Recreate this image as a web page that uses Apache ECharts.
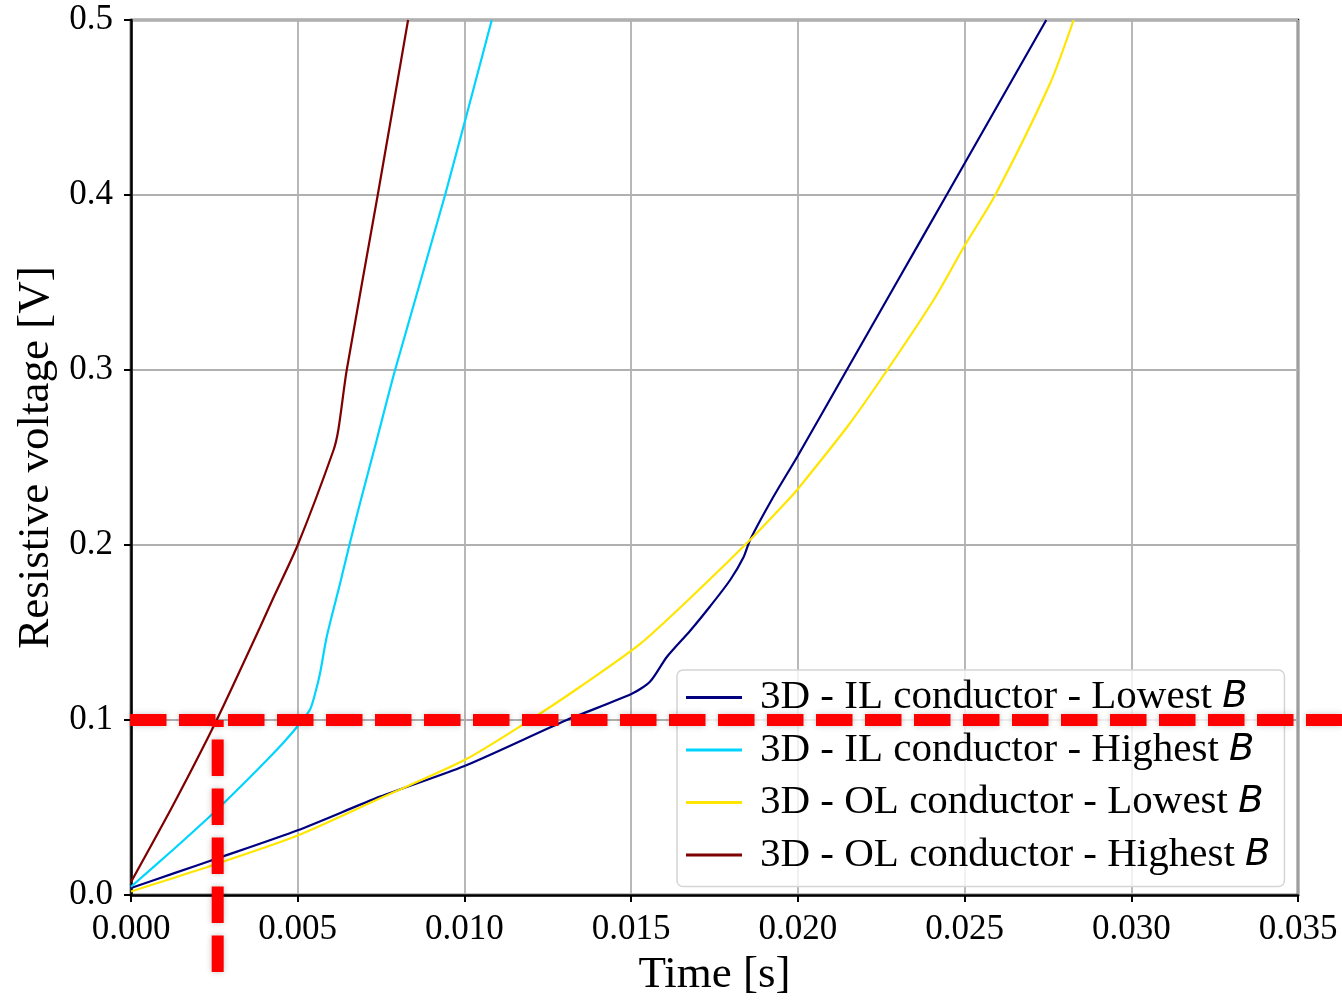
<!DOCTYPE html>
<html><head><meta charset="utf-8">
<script src="https://cdn.jsdelivr.net/npm/echarts@6/dist/echarts.min.js"></script>
<style>html,body{margin:0;padding:0;background:#fff}#c{width:1342px;height:1001px}</style>
</head><body><div id="c"></div>
<script>
// ---- data (time [s], resistive voltage [V]) ----
const ilLowest = [[0,0.004],[0.0013,0.0125],[0.0026,0.021],[0.005,0.037],[0.00747,0.0562],[0.010,0.0737],[0.01307,0.1],[0.01502,0.115],[0.01557,0.122],[0.01607,0.136],[0.01677,0.151],[0.01737,0.165],[0.01797,0.18],[0.01837,0.193],[0.01857,0.203],[0.01922,0.226],[0.0200,0.251],[0.02136,0.2964],[0.02307,0.3536],[0.02447,0.4003],[0.02745,0.5]];
const ilHighest = [[0,0.0047],[0.00127,0.026],[0.00257,0.0486],[0.0035,0.066],[0.00407,0.077],[0.00457,0.087],[0.00502,0.097],[0.00537,0.106],[0.00552,0.115],[0.00567,0.1267],[0.00587,0.1476],[0.00627,0.178],[0.00655,0.2],[0.00687,0.224],[0.00737,0.26],[0.00792,0.3],[0.00942,0.4],[0.01082,0.5]];
const olLowest = [[0,0.002],[0.0013,0.0099],[0.0026,0.018],[0.005,0.034],[0.00747,0.0553],[0.010,0.0771],[0.01197,0.1],[0.01347,0.119],[0.01527,0.1435],[0.0169,0.172],[0.01857,0.203],[0.01972,0.226],[0.0200,0.232],[0.0215,0.268],[0.02268,0.3],[0.02407,0.34],[0.025,0.371],[0.02592,0.4],[0.02757,0.464],[0.02827,0.5]];
const olHighest = [[0,0.0074],[0.00128,0.052],[0.00257,0.1],[0.00387,0.153],[0.00425,0.169],[0.005,0.2],[0.00607,0.254],[0.00622,0.266],[0.00647,0.3],[0.0074,0.4],[0.00831,0.5]];
const seriesNames = ['3D - IL conductor - Lowest B','3D - IL conductor - Highest B','3D - OL conductor - Lowest B','3D - OL conductor - Highest B'];
const seriesColors = ['#00007f','#00d4ff','#ffe600','#7f0000'];
const xTickValues = {min:0, max:0.035, step:0.005};
const yTickValues = {min:0, max:0.5, step:0.1};
const thresholdV = 0.1;     // horizontal red marker
const thresholdT = 0.0026;  // vertical red marker

const serif = 'Liberation Serif';
const chart = echarts.init(document.getElementById('c'), null, {renderer:'canvas'});
const datas = [ilLowest, ilHighest, olLowest, olHighest];

chart.setOption({
  animation:false,
  backgroundColor:'#fff',
  grid:{left:131, top:20, right:44, bottom:106, outerBoundsMode:'none', containLabel:false, show:true, borderColor:'#000', borderWidth:2.5, backgroundColor:'transparent'},
  xAxis:{type:'value', min:xTickValues.min, max:xTickValues.max, interval:xTickValues.step,
    name:'Time [s]', nameLocation:'middle', nameGap:58,
    nameTextStyle:{fontFamily:serif, fontSize:45, color:'#000'},
    axisLine:{lineStyle:{color:'#000', width:2.5}},
    axisTick:{inside:false, length:7, lineStyle:{color:'#000', width:2}},
    axisLabel:{fontFamily:serif, fontSize:35, color:'#000', margin:17, formatter:v=>v.toFixed(3)},
    splitLine:{show:true, lineStyle:{color:'#b0b0b0', width:1.8}}},
  yAxis:{type:'value', min:yTickValues.min, max:yTickValues.max, interval:yTickValues.step,
    name:'Resistive voltage [V]', nameLocation:'middle', nameGap:71,
    nameTextStyle:{fontFamily:serif, fontSize:45, color:'#000'},
    axisLine:{lineStyle:{color:'#000', width:2.5}},
    axisTick:{inside:false, length:7, lineStyle:{color:'#000', width:2}},
    axisLabel:{fontFamily:serif, fontSize:35, color:'#000', margin:18, formatter:v=>v.toFixed(1)},
    splitLine:{show:true, lineStyle:{color:'#b0b0b0', width:1.8}}},
  legend:{orient:'vertical', left:677, top:670, selectedMode:false,
    backgroundColor:'rgba(255,255,255,0.8)', borderColor:'#d5d5d5', borderWidth:1.5, borderRadius:6,
    padding:[7,14,11,9], itemGap:11.5, itemWidth:56, itemHeight:3, icon:'rect',
    data:seriesNames,
    formatter:n=>'{s| }{t|'+n.slice(0,-1)+'}{b|'+n.slice(-1)+'}',
    textStyle:{color:'#000', rich:{
      s:{width:13, fontSize:10},
      t:{fontFamily:serif, fontSize:41, lineHeight:40, color:'#000'},
      b:{fontFamily:'DejaVu Sans', fontStyle:'italic', fontSize:37, lineHeight:40, color:'#000'}}}},
  series:datas.map((d,i)=>({type:'line', name:seriesNames[i], data:d, showSymbol:false, symbol:'none',
    smooth:0.25, clip:true,
    lineStyle:{color:seriesColors[i], width:2.2}, itemStyle:{color:seriesColors[i]}, z:2}))
});

function drawMarkers(){
  const p = chart.convertToPixel({gridIndex:0}, [thresholdT, thresholdV]);
  const p0 = chart.convertToPixel({gridIndex:0}, [xTickValues.min, thresholdV]);
  const W = chart.getWidth();
  const style = {stroke:'#ff0000', lineWidth:12, lineDash:[36.5,12.5], shadowBlur:6, shadowColor:'rgba(0,0,0,0.22)'};
  chart.setOption({graphic:[
    {type:'line', z:100, shape:{x1:p0[0]-1, y1:p0[1], x2:W, y2:p0[1]}, style:style},
    {type:'line', z:100, shape:{x1:p[0], y1:972, x2:p[0], y2:p[1]}, style:style}
  ]});
}
drawMarkers();
</script></body></html>
